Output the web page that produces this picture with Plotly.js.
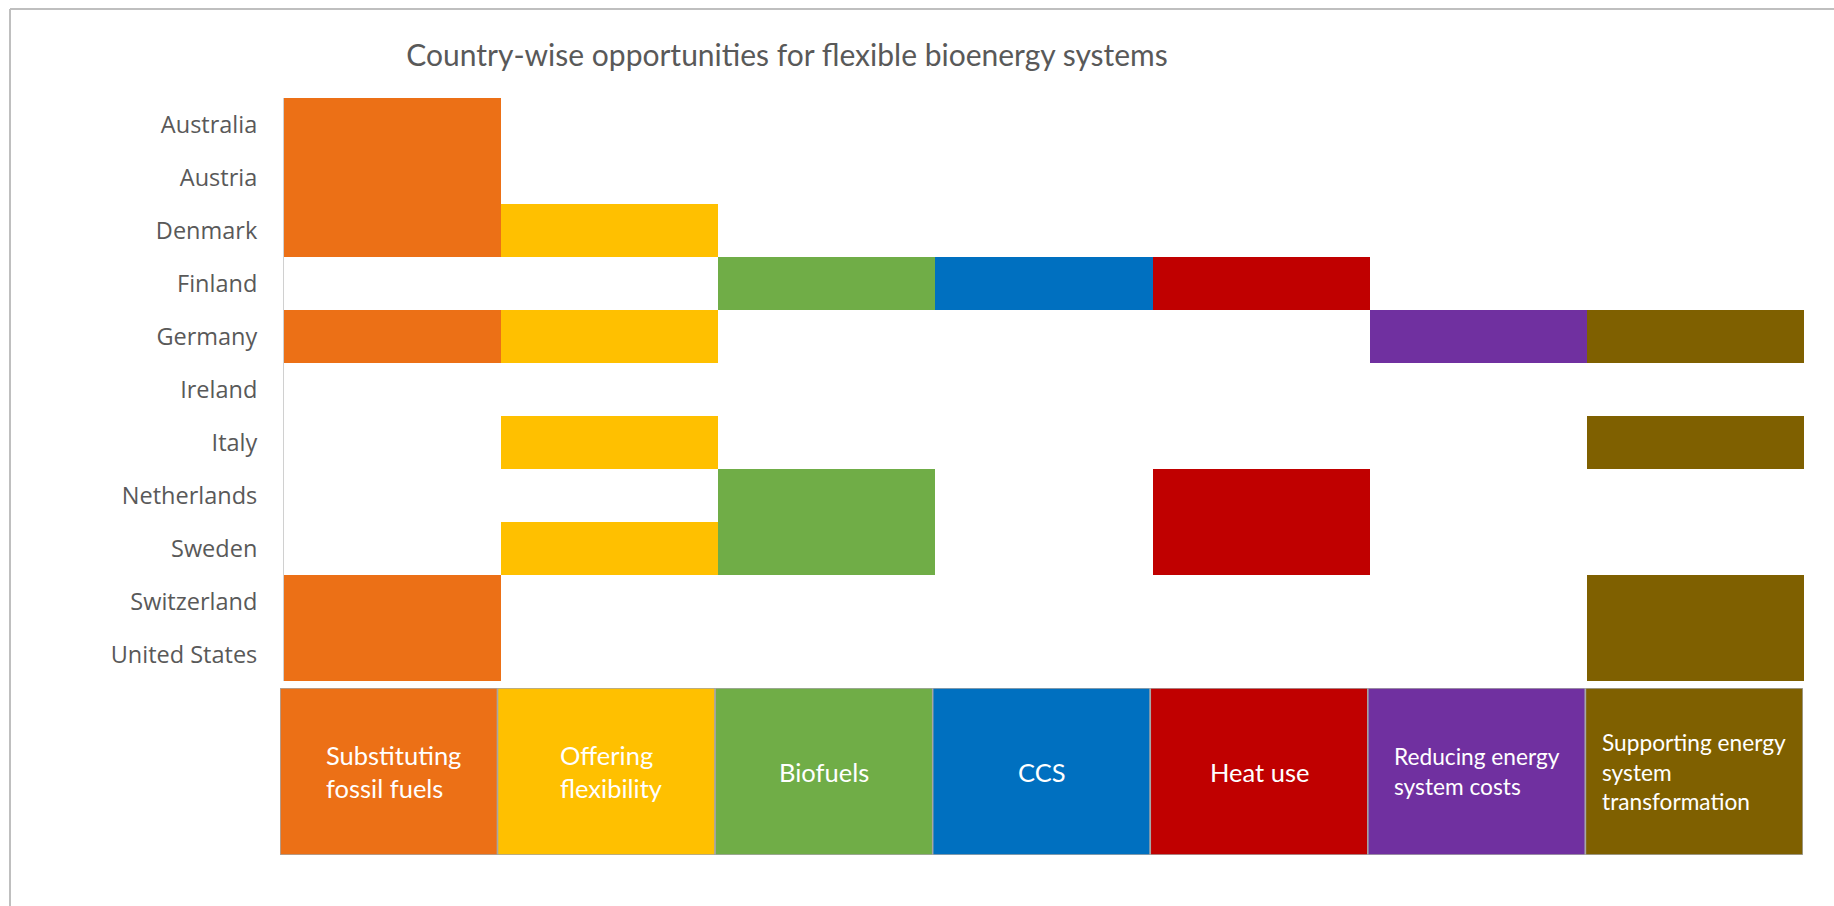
<!DOCTYPE html>
<html>
<head>
<meta charset="utf-8">
<script src="https://cdn.plot.ly/plotly-3.0.1.min.js"></script>
<style>
  html, body { margin: 0; padding: 0; background: #ffffff; }
  #chart { width: 1834px; height: 906px; }
</style>
</head>
<body>
<div id="chart"></div>
<script>
// ---- Data ----
const countries = ["Australia", "Austria", "Denmark", "Finland", "Germany", "Ireland",
                   "Italy", "Netherlands", "Sweden", "Switzerland", "United States"];

const categories = ["Substituting fossil fuels", "Offering flexibility", "Biofuels", "CCS",
                    "Heat use", "Reducing energy system costs", "Supporting energy system transformation"];

const legendLabels = ["Substituting<br>fossil fuels", "Offering<br>flexibility", "Biofuels", "CCS",
                      "Heat use", "Reducing energy<br>system costs", "Supporting energy<br>system<br>transformation"];

// 1 = opportunity present, 0 = not present (order follows `countries`)
const substitutingFossilFuels = [1, 1, 1, 0, 1, 0, 0, 0, 0, 1, 1];
const offeringFlexibility     = [0, 0, 1, 0, 1, 0, 1, 0, 1, 0, 0];
const biofuels                = [0, 0, 0, 1, 0, 0, 0, 1, 1, 0, 0];
const ccs                     = [0, 0, 0, 1, 0, 0, 0, 0, 0, 0, 0];
const heatUse                 = [0, 0, 0, 1, 0, 0, 0, 1, 1, 0, 0];
const reducingCosts           = [0, 0, 0, 0, 1, 0, 0, 0, 0, 0, 0];
const supportingTransformation= [0, 0, 0, 0, 1, 0, 1, 0, 0, 1, 1];

const presence = [substitutingFossilFuels, offeringFlexibility, biofuels, ccs,
                  heatUse, reducingCosts, supportingTransformation];

const colors = ["#EC7016", "#FFC000", "#70AD47", "#0070C0", "#C00000", "#7030A0", "#7F6000"];

// ---- Layout geometry (pixels) ----
const W = 1834, H = 906;
const px = v => v / W;
const py = v => 1 - v / H;

const traces = [];
categories.forEach((cat, i) => {
  traces.push({
    type: "bar",
    orientation: "h",
    name: cat,
    y: countries,
    x: presence[i].map(v => v ? 1 : null),
    base: i,
    width: 1,
    marker: { color: colors[i], line: { width: 0 } },
    xaxis: "x", yaxis: "y",
    hoverinfo: "y+name",
    showlegend: false
  });
});

// Legend strip drawn as a one-row bar chart on its own axes
categories.forEach((cat, i) => {
  traces.push({
    type: "bar",
    orientation: "h",
    name: cat,
    y: [0],
    x: [1],
    base: i,
    width: 1,
    marker: { color: colors[i], line: { color: "#A6A6A6", width: 1.5 } },
    xaxis: "x2", yaxis: "y2",
    hoverinfo: "name",
    showlegend: false
  });
});

const annotations = legendLabels.map((lab, i) => {
  const multi = lab.indexOf("<br>") >= 0;
  return {
    xref: "x2", yref: "y2",
    x: i + 0.5, y: 0,
    xanchor: "center", yanchor: "middle",
    xshift: (multi && i < 2) ? 5 : 0,
    text: lab,
    showarrow: false,
    align: multi ? "left" : "center",
    font: { family: "Lato, 'Open Sans', sans-serif", size: i >= 5 ? 22.7 : 25.5, color: "#FFFFFF" }
  };
});

const layout = {
  width: W, height: H,
  autosize: false,
  margin: { l: 0, r: 0, t: 0, b: 0, pad: 0 },
  paper_bgcolor: "#FFFFFF",
  plot_bgcolor: "rgba(0,0,0,0)",
  barmode: "overlay",
  bargap: 0,
  title: {
    text: "Country-wise opportunities for flexible bioenergy systems",
    x: px(787), xanchor: "center", xref: "paper",
    y: py(55), yanchor: "middle", yref: "paper",
    font: { family: "Lato, 'Open Sans', sans-serif", size: 30, color: "#595959" }
  },
  xaxis: {
    domain: [px(284), px(1804)],
    range: [0, categories.length],
    showgrid: false, zeroline: false, showticklabels: false, ticks: "",
    showline: false, fixedrange: true
  },
  yaxis: {
    domain: [py(681), py(98)],
    type: "category",
    autorange: "reversed",
    showgrid: false, zeroline: false,
    showline: true, linecolor: "#D0D0D0", linewidth: 1,
    ticks: "", ticklabelstandoff: 21,
    tickfont: { family: "'Open Sans', 'Noto Sans', sans-serif", size: 23.5, color: "#595959" },
    fixedrange: true
  },
  xaxis2: {
    domain: [px(280), px(1803)],
    range: [0, categories.length],
    anchor: "y2",
    showgrid: false, zeroline: false, showticklabels: false, ticks: "",
    showline: false, fixedrange: true
  },
  yaxis2: {
    domain: [py(855), py(688)],
    range: [-0.5, 0.5],
    anchor: "x2",
    showgrid: false, zeroline: false, showticklabels: false, ticks: "",
    showline: false, fixedrange: true
  },
  annotations: annotations,
  shapes: [
    { type: "line", xref: "paper", yref: "paper", x0: px(10), x1: 1.01, y0: py(9), y1: py(9),
      line: { color: "#BFBFBF", width: 2 } },
    { type: "line", xref: "paper", yref: "paper", x0: px(10), x1: px(10), y0: py(9), y1: -0.01,
      line: { color: "#BFBFBF", width: 2 } }
  ]
};

Plotly.newPlot("chart", traces, layout, { displayModeBar: false, staticPlot: true });
</script>
</body>
</html>
